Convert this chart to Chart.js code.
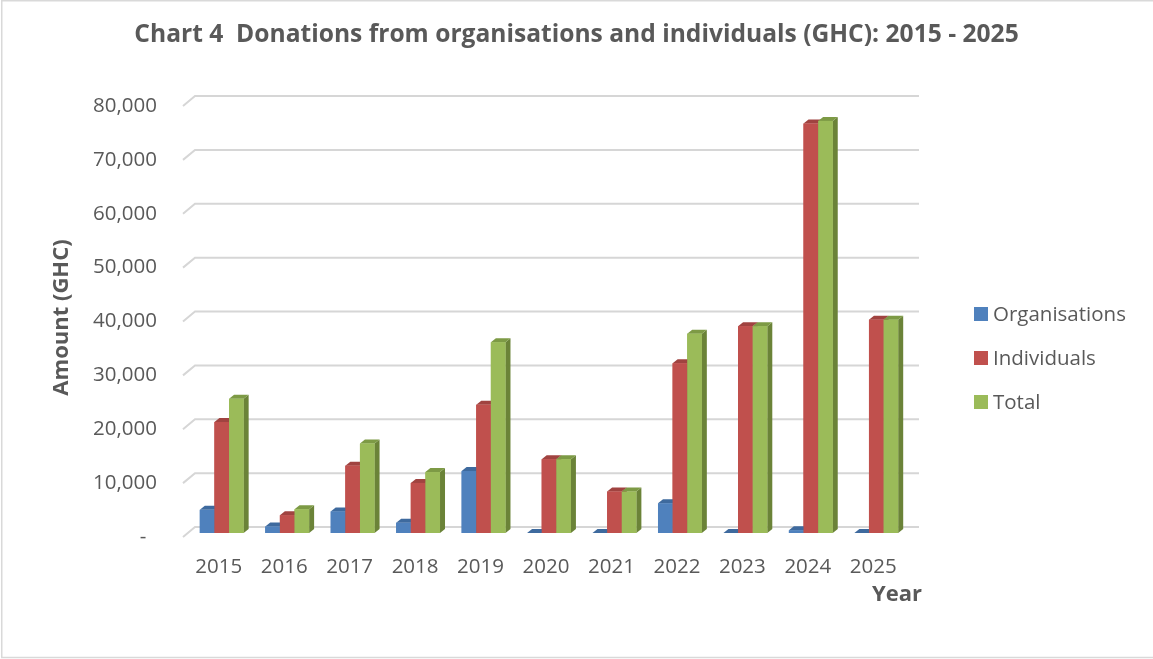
<!DOCTYPE html>
<html>
<head>
<meta charset="utf-8">
<title>Chart 4</title>
<script src="https://cdn.jsdelivr.net/npm/chart.js@4/dist/chart.umd.min.js"></script>
<style>
  html, body { margin: 0; padding: 0; background: #fff; }
  #wrap { width: 1153px; height: 659px; }
</style>
</head>
<body>
<div id="wrap"><canvas id="chart" width="1153" height="659"></canvas></div>
<script>
// values
const years = ['2015', '2016', '2017', '2018', '2019', '2020', '2021', '2022', '2023', '2024', '2025'];
const organisations = [4300, 1200, 4000, 1900, 11500, 0, 0, 5500, 0, 500, 0];
const individuals = [20600, 3300, 12500, 9300, 23800, 13700, 7700, 31500, 38400, 76000, 39600];
const totals = [24900, 4400, 16600, 11300, 35400, 13700, 7700, 37000, 38400, 76500, 39600];
const seriesNames = ['Organisations', 'Individuals', 'Total'];
const yMax = 80000;
const yStep = 10000;

// colours (front / side / top of the 3d columns)
const frontColors = ['#4F81BD', '#C0504D', '#9BBB59'];
const sideColors = ['#385D8A', '#8E3B39', '#6B8338'];
const topColors = ['#3E6A9E', '#A04340', '#7D9A45'];
const textColor = '#595959';

Chart.defaults.font.family = "'Open Sans', sans-serif";
Chart.defaults.color = textColor;

const DX = 5, DY = 4;   // depth of the columns

function poly(ctx, pts) {
  ctx.beginPath();
  ctx.moveTo(pts[0][0], pts[0][1]);
  for (let k = 1; k < pts.length; k++) ctx.lineTo(pts[k][0], pts[k][1]);
  ctx.closePath();
  ctx.fill();
}

// back wall gridlines with the little slanted piece on the left wall
const backGrid = {
  id: 'backGrid',
  beforeDatasetsDraw(chart) {
    const {ctx, chartArea, scales: {y}} = chart;
    ctx.save();
    ctx.strokeStyle = '#d6d6d6';
    ctx.lineWidth = 2;
    y.ticks.forEach(t => {
      const p = y.getPixelForValue(t.value);
      ctx.beginPath();
      ctx.moveTo(chartArea.left - 6, p + 4);
      ctx.lineTo(chartArea.left + 6, p - 6);
      ctx.lineTo(chartArea.right + 10, p - 6);
      ctx.stroke();
    });
    ctx.restore();
  }
};

// redraw the columns left to right with side and top faces
const bars3d = {
  id: 'bars3d',
  afterDatasetsDraw(chart) {
    const ctx = chart.ctx;
    const metas = chart.data.datasets.map((d, i) => chart.getDatasetMeta(i));
    ctx.save();
    years.forEach((_, j) => {
      metas.forEach((meta, i) => {
        const b = meta.data[j];
        const l = b.x - b.width / 2, r = b.x + b.width / 2;
        const t = b.y, base = b.base;
        ctx.fillStyle = sideColors[i];
        poly(ctx, [[r, t], [r + DX, t - DY], [r + DX, base - DY], [r, base]]);
        ctx.fillStyle = topColors[i];
        poly(ctx, [[l, t], [l + DX, t - DY], [r + DX, t - DY], [r, t]]);
        ctx.fillStyle = frontColors[i];
        ctx.fillRect(l, t, r - l, base - t);
      });
    });
    ctx.restore();
  }
};

// legend on the right, "Year" label, and the light frame
const sideLegend = {
  id: 'sideLegend',
  afterDraw(chart) {
    const ctx = chart.ctx;
    const x0 = chart.chartArea.right + 65;
    ctx.save();
    ctx.font = "20.5px 'Open Sans', sans-serif";
    ctx.textBaseline = 'middle';
    ctx.textAlign = 'left';
    chart.data.datasets.forEach((ds, i) => {
      const yc = 314 + i * 44;
      ctx.fillStyle = ds.backgroundColor;
      ctx.fillRect(x0, yc - 7, 14, 14);
      ctx.fillStyle = textColor;
      ctx.fillText(ds.label, x0 + 19, yc + 1);
    });
    // x axis title sits a bit right of the plot, under the back wall end
    ctx.font = "bold 22px 'Open Sans', sans-serif";
    ctx.textAlign = 'right';
    ctx.fillText('Year', chart.chartArea.right + 13, 595);
    ctx.strokeStyle = '#d9d9d9';
    ctx.lineWidth = 1.5;
    ctx.beginPath();
    ctx.moveTo(1153, 0.75); ctx.lineTo(1.75, 0.75);
    ctx.lineTo(1.75, 657.5); ctx.lineTo(1153, 657.5);
    ctx.stroke();
    ctx.restore();
  }
};

const ctx = document.getElementById('chart').getContext('2d');
const donationChart = new Chart(ctx, {
  type: 'bar',
  data: {
    labels: years,
    datasets: [
      { label: seriesNames[0], data: organisations, backgroundColor: frontColors[0] },
      { label: seriesNames[1], data: individuals, backgroundColor: frontColors[1] },
      { label: seriesNames[2], data: totals, backgroundColor: frontColors[2] }
    ]
  },
  options: {
    responsive: false,
    animation: false,
    devicePixelRatio: 1,
    layout: { padding: 0 },
    datasets: {
      bar: { barPercentage: 1, categoryPercentage: 0.67, borderWidth: 0 }
    },
    plugins: {
      legend: { display: false },
      tooltip: { enabled: false },
      title: {
        display: true,
        text: 'Chart 4  Donations from organisations and individuals (GHC): 2015 - 2025',
        color: textColor,
        font: { size: 24.6, weight: 'bold' },
        padding: { top: 20.2, bottom: 52.3 }
      }
    },
    scales: {
      x: {
        grid: { display: false, drawTicks: false },
        border: { display: false },
        ticks: { padding: 22, labelOffset: -3, font: { size: 20.5 }, color: textColor },
        afterFit(s) { s.height = 126; }
      },
      y: {
        min: 0,
        max: yMax,
        grid: { display: false, drawTicks: false },
        border: { display: false },
        ticks: {
          stepSize: yStep, padding: 32, labelOffset: 4,
          font: { size: 20.5 }, color: textColor,
          callback: v => v === 0 ? '-  ' : v.toLocaleString('en-US')
        },
        title: {
          display: true, text: 'Amount (GHC)', color: textColor,
          font: { size: 22, weight: 'bold' },
          padding: { top: 49, bottom: 0 }
        },
        afterFit(s) { s.width = 189; }
      },
      legendSpace: {
        type: 'linear',
        axis: 'y',
        position: 'right',
        grid: { display: false, drawTicks: false },
        border: { display: false },
        ticks: { display: false },
        afterFit(s) { s.width = 244; }
      }
    }
  },
  plugins: [backGrid, bars3d, sideLegend]
});
</script>
</body>
</html>
